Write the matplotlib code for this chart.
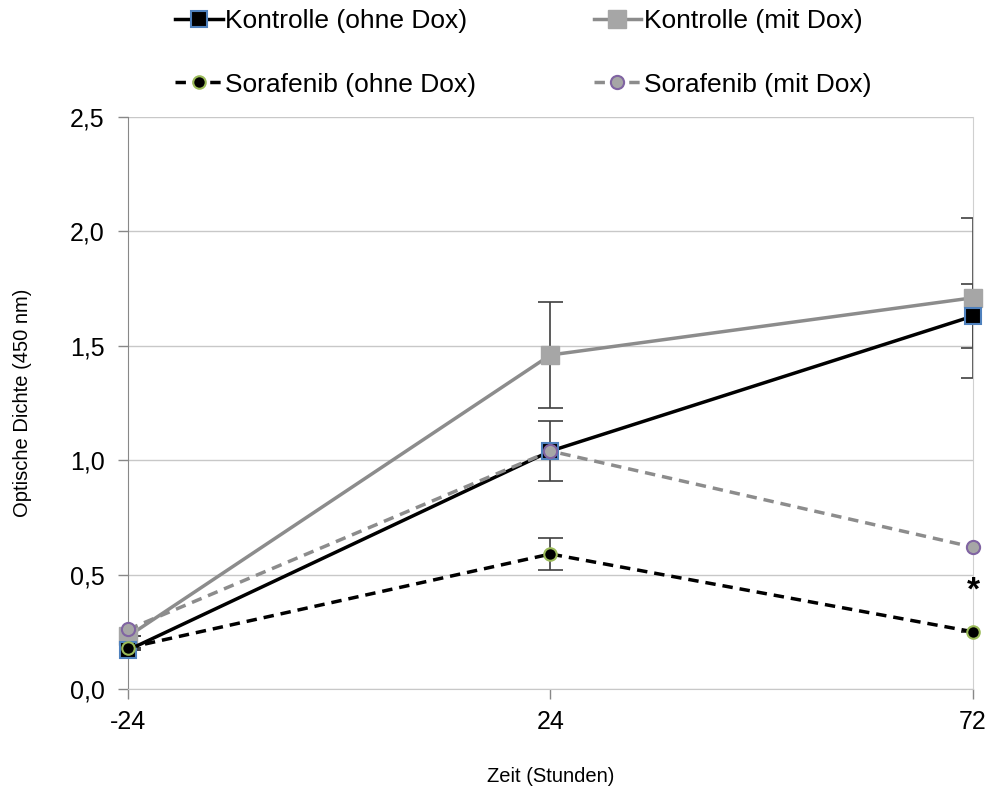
import matplotlib.pyplot as plt
from matplotlib.lines import Line2D

plt.rcParams['font.family'] = ['Liberation Sans', 'DejaVu Sans']

# data
zeit = ['-24', '24', '72']
kontrolle_ohne = [0.17, 1.04, 1.63]
kontrolle_mit = [0.23, 1.46, 1.71]
sora_ohne = [0.18, 0.59, 0.25]
sora_mit = [0.26, 1.04, 0.62]
err_kontrolle_ohne = [0, 0.13, 0.14]
err_kontrolle_mit = [0, 0.23, 0.35]
err_sora_ohne = [0, 0.07, 0]

x = list(range(len(zeit)))

fig = plt.figure(figsize=(9.9, 7.91), dpi=100)
ax = fig.add_axes([0.1293, 0.129, 0.8535, 0.723])

styles = {
    'Kontrolle (ohne Dox)': dict(color='black', lw=2.5, ls='-', marker='s', ms=12,
                                 mfc='black', mec='#4f81bd', mew=1.5),
    'Kontrolle (mit Dox)': dict(color='#8c8c8c', lw=2.5, ls='-', marker='s', ms=13.5,
                                mfc='#a6a6a6', mec='#a6a6a6', mew=1),
    'Sorafenib (ohne Dox)': dict(color='black', lw=2.5, ls=(0, (3, 2)), marker='o', ms=9,
                                 mfc='black', mec='#9bbb59', mew=1.5),
    'Sorafenib (mit Dox)': dict(color='#8c8c8c', lw=2.5, ls=(0, (3, 2)), marker='o', ms=9.5,
                                mfc='#a6a6a6', mec='#8064a2', mew=1.5),
}
eb = dict(fmt='none', ecolor='#404040', elinewidth=1.2, capsize=9, capthick=1.2)

ax.errorbar(x, kontrolle_mit, yerr=err_kontrolle_mit, zorder=2, **eb)
ax.errorbar(x, kontrolle_ohne, yerr=err_kontrolle_ohne, zorder=2, **eb)
ax.errorbar(x, sora_ohne, yerr=err_sora_ohne, zorder=2, **eb)

ax.plot(x, kontrolle_mit, clip_on=False, zorder=3, **styles['Kontrolle (mit Dox)'])
ax.plot(x, kontrolle_ohne, clip_on=False, zorder=4, **styles['Kontrolle (ohne Dox)'])
ax.plot(x, sora_ohne, clip_on=False, zorder=5, **styles['Sorafenib (ohne Dox)'])
ax.plot(x, sora_mit, clip_on=False, zorder=6, **styles['Sorafenib (mit Dox)'])

ax.text(2, 0.43, '*', fontsize=24, ha='center', va='center', fontweight='bold')

ax.set_xlim(0, 2)
ax.set_ylim(0, 2.5)
ax.set_xticks(x)
ax.set_xticklabels(zeit)
yt = [0, 0.5, 1.0, 1.5, 2.0, 2.5]
ax.set_yticks(yt)
ax.set_yticklabels([f'{v:.1f}'.replace('.', ',') for v in yt])
ax.tick_params(labelsize=18, color='#888888', length=7, width=1)
ax.tick_params(axis='y', pad=10)
ax.tick_params(axis='x', pad=8)
ax.yaxis.grid(True, color='#c8c8c8', lw=1)
ax.set_axisbelow(True)
ax.spines['top'].set_visible(False)
ax.spines['right'].set_color('#d0d0d0')
ax.spines['left'].set_color('#888888')
ax.spines['bottom'].set_color('#c8c8c8')

ax.set_ylabel('Optische Dichte (450 nm)', fontsize=14.5)
ax.yaxis.set_label_coords(-0.1136, 0.5)
ax.set_xlabel('Zeit (Stunden)', fontsize=14.5)
ax.xaxis.set_label_coords(0.5, -0.136)

# legend filled column by column
order = ['Kontrolle (ohne Dox)', 'Sorafenib (ohne Dox)', 'Kontrolle (mit Dox)', 'Sorafenib (mit Dox)']
handles = [Line2D([], [], **styles[k]) for k in order]
fig.legend(handles, order, ncol=2, loc='upper left',
           bbox_to_anchor=(175 / 990, 1 - 9 / 791), frameon=False,
           fontsize=19, handlelength=1.8, handletextpad=0.1, borderpad=0,
           borderaxespad=0, columnspacing=4.45, labelspacing=1.5)

fig.savefig('out.png', dpi=100)
